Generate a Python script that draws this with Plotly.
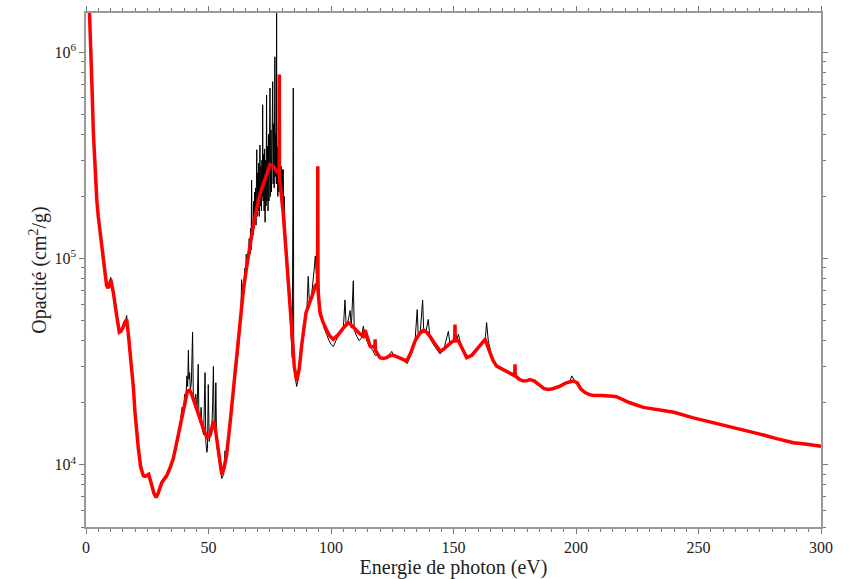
import plotly.graph_objects as go

# Smoothed (red) opacity spectrum
energy_red = [1.0, 1.3, 1.7, 2.0, 2.5, 3.0, 3.5, 4.0, 4.4, 5.0, 5.7, 6.4, 7.1, 7.8, 8.4, 9.0, 9.5,
              10.1, 10.6, 11.2, 12.4, 13.6, 14.3, 15.0, 15.8, 16.6, 17.2, 17.7, 18.6, 19.3, 20.0,
              20.7, 21.4, 22.3, 23.4, 24.3, 25.0, 25.6, 26.2, 26.8, 27.7, 28.6, 29.5, 30.9, 32.0,
              32.9, 34.2, 35.6, 37.0, 38.4, 39.9, 41.4, 42.3, 43.0, 43.8, 45.2, 46.5, 47.9, 49.3,
              50.5, 51.3, 52.0, 52.6, 53.3, 54.4, 55.4, 56.3, 57.4, 58.7, 60.1, 61.2, 62.2, 63.2,
              64.2, 65.5, 66.9, 68.3, 69.7, 71.0, 72.4, 73.8, 75.1, 76.5, 77.6, 78.3, 78.85, 78.9,
              78.95, 79.6, 80.5, 81.5, 82.6, 84.0, 85.0, 86.0, 87.0, 88.0, 89.8, 91.4, 92.5, 93.5,
              94.5, 94.6, 94.7, 95.5, 96.8, 98.2, 99.6, 100.9, 102.0, 103.0, 105.0, 107.1, 108.4,
              109.8, 111.5, 113.2, 113.9, 115.0, 115.9, 117.9, 118.0, 118.1, 119.0, 120.0, 121.3,
              122.7, 124.0, 125.4, 128.0, 130.9, 132.6, 134.3, 136.0, 137.7, 139.0, 140.4, 142.5,
              144.5, 145.8, 147.2, 148.6, 149.9, 150.5, 150.6, 150.7, 152.0, 153.7, 155.4, 157.5,
              159.5, 161.2, 162.9, 164.9, 166.2, 167.6, 169.5, 171.7, 173.5, 175.0, 175.1, 175.2,
              176.8, 178.5, 180.0, 181.2, 183.0, 185.0, 187.0, 188.6, 190.5, 193.5, 196.0, 198.9,
              200.5, 202.0, 203.7, 205.5, 207.1, 210.5, 213.9, 215.0, 216.5, 218.7, 222.0, 227.5,
              232.0, 237.0, 240.0, 247.9, 254.5, 261.5, 268.3, 275.1, 281.9, 288.7, 294.3, 300.0]
opacity_red = [2.2e6, 1.6e6, 1.2e6, 1.0e6, 6.5e5, 4.1e5, 3.0e5, 2.3e5, 1.93e5, 1.6e5, 1.34e5,
               1.17e5, 1.03e5, 8.6e4, 7.4e4, 7.2e4, 7.4e4, 7.9e4, 7.5e4, 6.8e4, 5.4e4, 4.4e4,
               4.45e4, 4.6e4, 4.9e4, 5.07e4, 4.4e4, 3.77e4, 3.13e4, 2.4e4, 1.80e4, 1.42e4,
               1.19e4, 9.8e3, 8.85e3, 8.8e3, 8.9e3, 9.0e3, 8.5e3, 7.9e3, 7.3e3, 6.95e3, 7.3e3,
               8.2e3, 8.6e3, 8.85e3, 9.6e3, 1.07e4, 1.28e4, 1.55e4, 1.9e4, 2.28e4, 2.3e4,
               2.22e4, 2.08e4, 1.85e4, 1.66e4, 1.5e4, 1.36e4, 1.38e4, 1.5e4, 1.63e4, 1.55e4,
               1.33e4, 1.05e4, 9.0e3, 9.6e3, 1.12e4, 1.55e4, 2.3e4, 3.0e4, 4.0e4, 5.3e4, 7.0e4,
               9.0e4, 1.15e5, 1.45e5, 1.75e5, 2.05e5, 2.3e5, 2.6e5, 2.85e5, 2.8e5, 2.65e5, 2.6e5,
               2.6e5, 7.8e5, 2.5e5, 2.1e5, 1.66e5, 1.15e5, 7.9e4, 4.5e4, 3.0e4, 2.55e4, 2.9e4,
               3.77e4, 5.46e4, 6.1e4, 6.7e4, 7.35e4, 7.6e4, 2.8e5, 7.0e4, 5.46e4, 4.9e4, 4.5e4,
               4.2e4, 4.06e4, 4.15e4, 4.28e4, 4.6e4, 4.89e4, 4.75e4, 4.54e4, 4.35e4, 4.2e4, 4.5e4,
               4.1e4, 3.77e4, 3.7e4, 4.06e4, 3.6e4, 3.45e4, 3.31e4, 3.28e4, 3.31e4, 3.38e4,
               3.4e4, 3.3e4, 3.19e4, 3.5e4, 3.98e4, 4.3e4, 4.5e4, 4.4e4, 4.2e4, 3.85e4, 3.56e4,
               3.62e4, 3.77e4, 3.88e4, 3.98e4, 3.98e4, 4.79e4, 4.0e4, 4.0e4, 3.6e4, 3.31e4,
               3.4e4, 3.63e4, 3.85e4, 4.06e4, 3.5e4, 3.2e4, 3.01e4, 2.92e4, 2.85e4, 2.76e4, 2.7e4,
               3.07e4, 2.69e4, 2.6e4, 2.55e4, 2.56e4, 2.59e4, 2.55e4, 2.45e4, 2.34e4, 2.32e4,
               2.34e4, 2.41e4, 2.5e4, 2.55e4, 2.5e4, 2.33e4, 2.24e4, 2.19e4, 2.17e4, 2.17e4,
               2.17e4, 2.15e4, 2.14e4, 2.08e4, 2.0e4, 1.90e4, 1.86e4, 1.83e4, 1.80e4, 1.69e4,
               1.62e4, 1.55e4, 1.48e4, 1.41e4, 1.34e4, 1.28e4, 1.26e4, 1.23e4]

# Detailed (black) opacity spectrum
energy_black = [1.0, 2.0, 3.0, 4.4, 5.7, 7.1, 8.4, 9.6, 10.1, 11.2, 13.6, 16.0, 16.6, 17.7, 18.6,
                20.0, 21.4, 23.4, 25.4, 26.8, 28.6, 30.9, 32.9, 35.6, 38.4, 39.2, 39.8, 40.3,
                40.8, 41.2, 41.5, 41.8, 42.0, 42.3, 42.6, 43.0, 43.5, 43.8, 44.3, 44.8, 45.3,
                45.8, 46.1, 46.6, 47.0, 47.4, 48.0, 48.6, 48.9, 49.3, 49.6, 49.9, 50.3, 50.8,
                51.3, 51.7, 52.0, 52.3, 52.7, 53.0, 53.3, 53.8, 54.5, 55.4, 56.2, 56.7, 57.4,
                58.0, 60.1, 62.2, 63.0, 63.3, 63.5, 63.8, 64.2, 64.5, 64.8, 65.1, 65.4, 65.7,
                66.0, 66.3, 66.6, 66.9, 67.2, 67.4, 67.6, 67.8, 68.0, 68.2, 68.4, 68.6, 68.8,
                69.0, 69.2, 69.4, 69.6, 69.7, 69.9, 70.1, 70.3, 70.5, 70.7, 70.9, 71.0, 71.2,
                71.4, 71.6, 71.8, 72.0, 72.1, 72.3, 72.5, 72.7, 72.9, 73.1, 73.3, 73.5, 73.7,
                73.9, 74.1, 74.3, 74.5, 74.7, 74.9, 75.1, 75.3, 75.5, 75.7, 75.9, 76.0, 76.2,
                76.4, 76.6, 76.8, 77.0, 77.1, 77.3, 77.5, 77.7, 77.8, 77.9, 78.1, 78.3, 78.5,
                78.7, 78.9, 79.1, 79.3, 79.5, 79.7, 79.9, 80.1, 80.3, 80.5, 80.7, 80.9, 81.2,
                81.5, 82.0, 82.6, 83.2, 83.8, 84.2, 84.6, 84.8, 85.5, 86.0, 86.5, 87.3, 88.0,
                88.8, 89.5, 90.2, 90.7, 91.2, 92.0, 92.6, 93.2, 93.6, 94.0, 94.6, 95.0, 95.5,
                96.3, 97.2, 98.2, 99.2, 100.3, 101.0, 102.0, 103.0, 104.0, 105.0, 105.7, 106.2,
                107.0, 107.8, 108.3, 109.1, 109.5, 110.5, 111.5, 112.3, 113.2, 113.8, 115.0,
                116.0, 117.0, 118.0, 119.0, 120.0, 122.7, 124.8, 125.4, 128.0, 131.1, 133.0,
                134.3, 135.2, 135.6, 136.5, 137.4, 137.8, 138.7, 139.7, 140.4, 142.0, 144.5,
                146.0, 147.9, 148.5, 150.0, 150.6, 151.3, 152.0, 153.0, 155.4, 157.5, 159.5,
                161.5, 163.0, 163.5, 164.2, 165.5, 167.6, 171.7, 175.1, 178.5, 181.2, 183.0,
                185.0, 188.6, 193.5, 197.5, 198.3, 199.5, 203.7, 207.1, 213.9, 218.7, 227.5,
                237.0, 247.9, 261.5, 275.1, 288.7, 300.0]
opacity_black = [2.2e6, 1.0e6, 4.1e5, 1.93e5, 1.34e5, 1.03e5, 7.4e4, 7.4e4, 8.1e4, 6.8e4, 4.4e4,
                 4.9e4, 5.3e4, 3.77e4, 3.13e4, 1.80e4, 1.19e4, 8.85e3, 9.0e3, 7.9e3, 6.95e3,
                 8.2e3, 8.85e3, 1.07e4, 1.6e4, 1.9e4, 1.8e4, 2.2e4, 2.1e4, 2.7e4, 2.4e4, 3.6e4,
                 2.6e4, 2.8e4, 2.3e4, 2.5e4, 4.4e4, 2.2e4, 2.0e4, 2.2e4, 1.8e4, 3.07e4, 1.7e4,
                 1.6e4, 1.9e4, 1.5e4, 1.4e4, 2.8e4, 1.3e4, 1.15e4, 1.2e4, 2.45e4, 1.3e4, 1.5e4,
                 1.4e4, 2.0e4, 3.0e4, 1.6e4, 1.45e4, 2.5e4, 1.25e4, 1.15e4, 1.0e4, 8.6e3, 9.0e3,
                 1.17e4, 1.1e4, 1.3e4, 2.2e4, 3.6e4, 4.8e4, 6.0e4, 7.9e4, 5.5e4, 7.5e4, 6.8e4,
                 9.0e4, 7.8e4, 1.05e5, 8.8e4, 1.0e5, 9.5e4, 1.25e5, 1.05e5, 1.4e5, 1.1e5, 2.4e5,
                 1.25e5, 1.5e5, 1.3e5, 1.9e5, 1.4e5, 2.1e5, 1.5e5, 2.2e5, 1.45e5, 2.5e5, 3.37e5,
                 1.6e5, 2.6e5, 1.7e5, 2.9e5, 1.6e5, 2.4e5, 3.55e5, 1.8e5, 2.8e5, 1.7e5, 3.0e5,
                 2.0e5, 5.56e5, 1.9e5, 3.2e5, 1.7e5, 3.4e5, 1.5e5, 3.0e5, 1.8e5, 6.2e5, 1.9e5,
                 3.5e5, 1.7e5, 4.0e5, 1.9e5, 3.6e5, 6.7e5, 2.0e5, 4.2e5, 2.1e5, 3.8e5, 2.2e5,
                 7.2e5, 2.3e5, 4.5e5, 2.2e5, 5.0e5, 9.5e5, 2.5e5, 4.0e5, 2.3e5, 1.7e6, 2.4e5,
                 3.5e5, 2.0e5, 3.3e5, 2.1e5, 3.0e5, 2.2e5, 3.2e5, 2.0e5, 2.8e5, 1.9e5, 2.7e5,
                 1.8e5, 2.7e5, 1.6e5, 2.0e5, 1.4e5, 1.3e5, 1.05e5, 7.5e4, 5.5e4, 4.0e4, 3.3e4,
                 6.7e5, 3.0e4, 2.6e4, 2.4e4, 2.6e4, 3.2e4, 3.8e4, 4.6e4, 5.2e4, 5.8e4, 8.2e4,
                 6.0e4, 6.5e4, 7.5e4, 9.0e4, 1.03e5, 8.5e4, 9.5e4, 7.0e4, 5.8e4, 5.2e4, 4.6e4,
                 4.3e4, 4.0e4, 3.8e4, 3.75e4, 4.0e4, 4.2e4, 4.4e4, 4.5e4, 6.3e4, 4.7e4, 5.0e4,
                 5.6e4, 4.6e4, 7.8e4, 4.5e4, 4.2e4, 4.0e4, 4.1e4, 4.7e4, 4.3e4, 3.9e4, 3.7e4,
                 3.6e4, 3.4e4, 3.4e4, 3.3e4, 3.3e4, 3.55e4, 3.4e4, 3.3e4, 3.1e4, 3.5e4, 4.0e4,
                 5.66e4, 4.2e4, 4.5e4, 6.3e4, 4.6e4, 4.4e4, 5.07e4, 4.1e4, 3.8e4, 3.45e4, 3.6e4,
                 4.44e4, 3.9e4, 4.0e4, 4.5e4, 4.0e4, 4.3e4, 3.8e4, 3.3e4, 3.4e4, 3.6e4, 3.9e4,
                 4.1e4, 4.9e4, 4.0e4, 3.4e4, 3.0e4, 2.85e4, 2.75e4, 2.55e4, 2.6e4, 2.55e4, 2.45e4,
                 2.3e4, 2.4e4, 2.55e4, 2.7e4, 2.55e4, 2.24e4, 2.17e4, 2.17e4, 2.08e4, 1.9e4,
                 1.83e4, 1.69e4, 1.55e4, 1.41e4, 1.28e4, 1.23e4]

x_tickvals = [0, 50, 100, 150, 200, 250, 300]
y_tickvals = [1e4, 1e5, 1e6]
y_ticktext = ["10<sup>4</sup>", "10<sup>5</sup>", "10<sup>6</sup>"]
y_minor = [m * 10 ** d for d in (3, 4, 5, 6) for m in range(2, 10)]

fig = go.Figure()
fig.add_trace(go.Scatter(x=energy_black, y=opacity_black, mode="lines",
                         line=dict(color="black", width=1), showlegend=False))
fig.add_trace(go.Scatter(x=energy_red, y=opacity_red, mode="lines",
                         line=dict(color="#ff0000", width=3.5), showlegend=False))

font_family = "Liberation Serif, Times New Roman, serif"
axis_common = dict(showline=True, linecolor="#999999", linewidth=1.5, mirror="ticks",
                   ticks="outside", ticklen=5, tickcolor="#777777", tickwidth=1,
                   showgrid=False, zeroline=False, automargin=False,
                   tickfont=dict(family=font_family, size=16, color="#222222"))

fig.update_xaxes(range=[0, 300], tickvals=x_tickvals,
                 minor=dict(dtick=5, ticks="outside", ticklen=3, tickcolor="#777777"),
                 title=dict(text="Energie de photon (eV)", standoff=0,
                            font=dict(family=font_family, size=20, color="#222222")),
                 **axis_common)
fig.update_yaxes(type="log", range=[3.699, 6.19], tickvals=y_tickvals, ticktext=y_ticktext,
                 minor=dict(tickvals=y_minor, ticks="outside", ticklen=3, tickcolor="#777777"),
                 title=dict(text="Opacité (cm<sup>2</sup>/g)", standoff=2,
                            font=dict(family=font_family, size=20, color="#222222")),
                 **axis_common)

fig.update_layout(width=849, height=579, margin=dict(l=86, r=28, t=13, b=52),
                  plot_bgcolor="white", paper_bgcolor="white")

fig.write_html("out.html")
